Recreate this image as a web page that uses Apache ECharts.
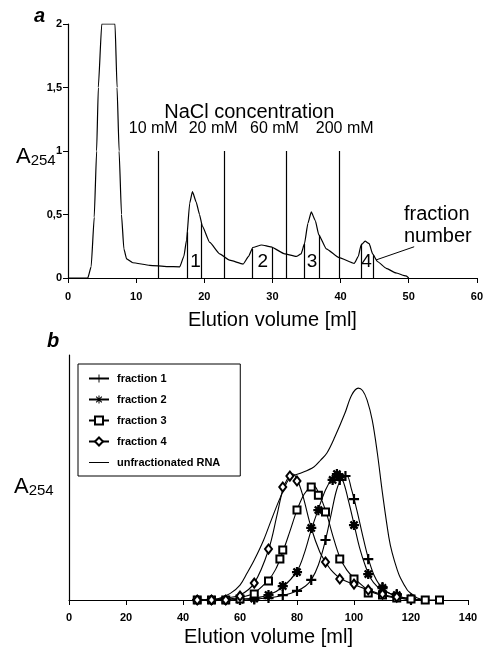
<!DOCTYPE html>
<html><head><meta charset="utf-8">
<script src="https://cdn.jsdelivr.net/npm/echarts@6/dist/echarts.min.js"></script>
<style>html,body{margin:0;padding:0;background:#fff}#c{width:486px;height:650px}</style>
</head><body><div id="c"></div>
<script>
// ---------- Panel a : elution profile ----------
const aVol = [0,2.9,3.4,3.85,4.2,4.45,4.95,6.9,7.2,7.5,7.85,8.2,8.6,9.5,12,14.5,16.4,17,17.4,17.86,18.26,18.8,19.3,19.7,20.8,22.25,23.7,25.7,26.5,27.1,28.4,29.8,31.8,33.5,34.2,34.7,35.2,35.7,36.3,36.8,37.9,39.8,42,42.6,43,43.6,44.2,44.7,45.4,46.7,48.1,49.6,50];
const aAbs = [0,0,0.09,0.48,1.0,1.5,2.0,2.0,1.5,1.0,0.5,0.23,0.15,0.12,0.10,0.09,0.088,0.17,0.3,0.59,0.68,0.6,0.5,0.41,0.28,0.19,0.14,0.11,0.17,0.24,0.26,0.245,0.19,0.17,0.19,0.27,0.43,0.52,0.45,0.34,0.23,0.16,0.115,0.17,0.26,0.29,0.27,0.19,0.13,0.076,0.04,0.016,0];
const naclLabels = ['10 mM','20 mM','60 mM','200 mM'];
const naclLineX = [13.2, 23, 32, 39.8];
const naclLineTop = 1;
const naclLabelX = [12.5, 21.3, 30.3, 40.6];
const naclLabelY = 1.18;
const naclTitle = 'NaCl concentration';
const naclTitleX = 26.6, naclTitleY = 1.3;
const fracLineX = [17.5, 19.6, 27, 29.9, 34.7, 36.8, 43.1, 44.8];
const fracLineTop = [0.36, 0.43, 0.23, 0.24, 0.27, 0.34, 0.27, 0.18];
const fracNums = ['1','2','3','4'];
const fracNumX = [18.7, 28.6, 35.8, 43.8];
const fracNumY = 0.13;
const fracNoteText = 'fraction\nnumber';
const fracNoteX = 49.3, fracNoteY = 0.41;
const leaderX = [45.2, 50.8];
const leaderY = [0.142, 0.246];
const aYTicks = ['0','0,5','1','1,5','2'];

// ---------- Panel b : size-exclusion profiles ----------
const unfX = [48,52,56.6,60,62.5,65,68.3,71,74.2,77.7,81.2,85.9,88.3,90.5,93.3,96.8,99.2,101.5,103,104.6,106.4,108.2,110,112.2,113.4,115.2,116.3,118.7,120,122.2,125];
const unfY = [0,0.4,2.7,6.1,11,16.3,24.5,32.7,42,50.2,51.7,54.3,57.1,60,66.6,76.2,83.7,86.5,85.5,81.6,73.4,59.9,43.5,25.8,19.2,12.2,9,4.1,2.7,0.8,0];

const f1CurveX = [45,50,55,60,65,70,75,80,83,85,87.5,90,92,94,96,97.5,99,101,103,105,107,109,111,115,120,125];
const f1CurveY = [0,0,0,0,0.4,0.8,1.8,3.7,5.7,8.2,14.3,24.5,35.1,45.3,50.2,50.6,45.7,36.7,26.5,17.1,10.2,6.1,3.7,1.6,0.4,0];
const f1PtsX = [45,50,55,60,65,70,75,80,85,90,95,97,100,105,110,115,120];
const f1PtsY = [0,0,0,0,0.2,0.8,2,3.7,8.2,24.5,49,50.6,41.2,16.7,5.3,2.4,0];

const f2CurveX = [45,50,55,60,65,70,75,80,82.5,85,87.5,90,92.5,94,96,98,100,102,104,106,108,110,115,120,125];
const f2CurveY = [0,0,0,0.4,0.8,2,5.3,11.8,18.8,28.6,37.1,44.9,50,51.4,49,40.8,31,21.2,13.9,8.6,5.7,4.1,1.6,0.4,0];
const f2PtsX = [45,50,55,60,65,70,75,80,85,87.5,92.5,94,95,100,105,110,115,120];
const f2PtsY = [0,0,0,0.2,0.6,2,5.7,11.4,29.4,36.7,49,51.4,50.2,30.6,10.6,4.9,2,0.6];

const f3CurveX = [45,50,55,60,65,70,72.5,75,77.5,80,82.5,85,86,87.5,90,92.5,95,97.5,100,105,110,115,120,125,130];
const f3CurveY = [0,0,0.4,1,2.9,8.2,12.5,19.6,28,36.7,43.2,46.3,46.5,43.9,36.7,26.5,17.5,12.2,9,4.1,1.8,0.8,0.2,0,0];
const f3PtsX = [45,50,55,60,65,70,74,75,80,85,87.5,90,95,100,105,110,115,120,125,130];
const f3PtsY = [0,0,0,0.4,2.4,7.8,16.7,20.4,36.7,46.1,42.8,35.9,16.7,8.6,2.9,2,0.8,0.4,0,0];

const f4CurveX = [45,50,55,60,65,70,73,75,77,78.5,80,82,85,88,90,92,95,100,105,110,115,120];
const f4CurveY = [0,0.2,0.8,2,6.9,20.4,34.7,44.9,50.2,51.4,49.4,42.8,29.4,19.6,15.5,12.2,9,6.3,4.1,2.2,1,0];
const f4PtsX = [45,50,55,60,65,70,75,77.5,80,90,95,100,105,110,115];
const f4PtsY = [0,0,0,1.6,6.9,20.8,46.1,50.6,48.6,15.5,8.6,6.5,4.1,2.4,1.2];

const seriesNames = ['fraction 1','fraction 2','fraction 3','fraction 4','unfractionated RNA'];

// ---------- chart ----------
const FONT = '"Liberation Sans", Arial, Helvetica, sans-serif';
const zip = (xs, ys) => xs.map((x, i) => [x, ys[i]]);
const plusPath = 'path://M4.4,0H5.6V10H4.4Z M0,4.4H10V5.6H0Z';
function starPath() {
  let d = '';
  const t = 0.65;
  [0, 45, 90, 135].forEach(deg => {
    const a = deg * Math.PI / 180, c = Math.cos(a), s = Math.sin(a);
    const pts = [[-5,-t],[5,-t],[5,t],[-5,t]].map(([x, y]) => [5 + x*c - y*s, 5 + x*s + y*c]);
    d += 'M' + pts.map(p => p[0].toFixed(2) + ',' + p[1].toFixed(2)).join('L') + 'Z';
  });
  return 'path://' + d;
}
const symbols = [plusPath, starPath(), 'emptyRect', 'emptyDiamond'];
const symSizes = [9, 9, 7, [7, 9]];
const curves = [[f1CurveX,f1CurveY],[f2CurveX,f2CurveY],[f3CurveX,f3CurveY],[f4CurveX,f4CurveY]];
const pts = [[f1PtsX,f1PtsY],[f2PtsX,f2PtsY],[f3PtsX,f3PtsY],[f4PtsX,f4PtsY]];

function textSeries(xs, ys, texts, fontSize, labelExtra) {
  return {
    type: 'scatter', xAxisIndex: 0, yAxisIndex: 0, silent: true,
    symbol: 'circle', symbolSize: 0.1, itemStyle: { color: '#000', opacity: 1 },
    data: xs.map((x, i) => ({ value: [x, ys[i]], label: { formatter: texts[i] } })),
    label: Object.assign({ show: true, position: 'inside', align: 'center', verticalAlign: 'middle',
      color: '#000', opacity: 1, textBorderWidth: 0, fontSize: fontSize, fontFamily: FONT }, labelExtra || {}),
    z: 5
  };
}

const bSeries = [];
for (let k = 0; k < 4; k++) {
  bSeries.push({
    name: seriesNames[k], type: 'line', xAxisIndex: 1, yAxisIndex: 1,
    data: zip(curves[k][0], curves[k][1]), smooth: 0.35, showSymbol: false,
    symbol: symbols[k], symbolSize: symSizes[k],
    lineStyle: { color: '#000', width: 1.1 }, itemStyle: { color: '#000' }, z: 2
  });
}
for (let k = 0; k < 4; k++) {
  bSeries.push({
    name: seriesNames[k], type: 'scatter', xAxisIndex: 1, yAxisIndex: 1,
    data: zip(pts[k][0], pts[k][1]), symbol: symbols[k], symbolSize: symSizes[k],
    itemStyle: { color: '#000', borderColor: '#000', borderWidth: 1.1, opacity: 1 }, z: 3
  });
}
bSeries.push({
  name: seriesNames[4], type: 'line', xAxisIndex: 1, yAxisIndex: 1,
  data: zip(unfX, unfY), smooth: 0.35, showSymbol: false, symbol: 'none',
  lineStyle: { color: '#000', width: 1.1 }, itemStyle: { color: '#000' }, z: 2
});

const axisLabelStyle = { color: '#000', fontSize: 11, fontWeight: 'bold', fontFamily: FONT };
const axisLineStyle = { show: true, lineStyle: { color: '#000', width: 1.2 } };

const option = {
  animation: false,
  backgroundColor: '#fff',
  grid: [
    { left: 68, right: 8, top: 24, bottom: 372 },
    { left: 69, right: 18, top: 355, bottom: 50 }
  ],
  xAxis: [
    { gridIndex: 0, type: 'value', min: 0, max: 60, interval: 10,
      axisLine: axisLineStyle, axisTick: { show: true, length: 5, lineStyle: { color: '#000' } },
      axisLabel: Object.assign({ margin: 13 }, axisLabelStyle), splitLine: { show: false },
      name: 'Elution volume [ml]', nameLocation: 'middle', nameGap: 32,
      nameTextStyle: { color: '#000', fontSize: 20, fontFamily: FONT } },
    { gridIndex: 1, type: 'value', min: 0, max: 140, interval: 20,
      axisLine: axisLineStyle, axisTick: { show: true, length: 5, lineStyle: { color: '#000' } },
      axisLabel: Object.assign({ margin: 12 }, axisLabelStyle), splitLine: { show: false },
      name: 'Elution volume [ml]', nameLocation: 'middle', nameGap: 27,
      nameTextStyle: { color: '#000', fontSize: 20, fontFamily: FONT } }
  ],
  yAxis: [
    { gridIndex: 0, type: 'value', min: 0, max: 2, interval: 0.5,
      axisLine: axisLineStyle, axisTick: { show: true, length: 5, lineStyle: { color: '#000' } },
      axisLabel: Object.assign({ margin: 6, formatter: (v) => aYTicks[Math.round(v / 0.5)] }, axisLabelStyle),
      splitLine: { show: false } },
    { gridIndex: 1, type: 'value', min: 0, max: 100,
      axisLine: axisLineStyle, axisTick: { show: false }, axisLabel: { show: false },
      splitLine: { show: false } }
  ],
  legend: {
    orient: 'vertical', left: 78, top: 364,
    itemWidth: 20, itemHeight: 10, itemGap: 10,
    padding: [9, 20, 8, 10],
    borderColor: '#000', borderWidth: 1,
    textStyle: { color: '#000', fontSize: 11, fontWeight: 'bold', fontFamily: FONT, padding: [0,0,0,3] },
    data: [
      { name: seriesNames[0] }, { name: seriesNames[1] }, { name: seriesNames[2] }, { name: seriesNames[3] },
      { name: seriesNames[4], icon: 'path://M0,0H20V1H0Z' }
    ]
  },
  graphic: [
    { type: 'text', left: 34, top: 6, style: { text: 'a', fill: '#000', font: 'italic bold 20px ' + FONT } },
    { type: 'text', left: 47, top: 331, style: { text: 'b', fill: '#000', font: 'italic bold 20px ' + FONT } },
    { type: 'text', left: 16, top: 146, style: { text: '{a|A}{s|254}', fill: '#000',
        rich: { a: { fontSize: 22, fontFamily: FONT, fill: '#000', verticalAlign: 'bottom' },
                s: { fontSize: 15, fontFamily: FONT, fill: '#000', verticalAlign: 'bottom' } } } },
    { type: 'text', left: 14, top: 476, style: { text: '{a|A}{s|254}', fill: '#000',
        rich: { a: { fontSize: 22, fontFamily: FONT, fill: '#000', verticalAlign: 'bottom' },
                s: { fontSize: 15, fontFamily: FONT, fill: '#000', verticalAlign: 'bottom' } } } }
  ],
  series: [
    {
      type: 'line', xAxisIndex: 0, yAxisIndex: 0, data: zip(aVol, aAbs),
      smooth: 0.15, smoothMonotone: 'x', showSymbol: false, symbol: 'none',
      lineStyle: { color: '#000', width: 1.2 },
      markLine: {
        silent: true, symbol: ['none', 'none'], label: { show: false },
        lineStyle: { color: '#000', width: 1.2, type: 'solid' }, emphasis: { disabled: true },
        data: naclLineX.map(x => [{ coord: [x, 0] }, { coord: [x, naclLineTop] }])
          .concat(fracLineX.map((x, i) => [{ coord: [x, 0] }, { coord: [x, fracLineTop[i]] }]))
      }
    },
    {
      type: 'line', xAxisIndex: 0, yAxisIndex: 0, data: zip(leaderX, leaderY),
      showSymbol: false, symbol: 'none', lineStyle: { color: '#000', width: 1 }, silent: true
    },
    textSeries([naclTitleX], [naclTitleY], [naclTitle], 20),
    textSeries(naclLabelX, naclLabelX.map(() => naclLabelY), naclLabels, 16),
    textSeries(fracNumX, fracNumX.map(() => fracNumY), fracNums, 19),
    textSeries([fracNoteX], [fracNoteY], [fracNoteText], 20, { position: [0, 0], align: 'left', lineHeight: 22 })
  ].concat(bSeries)
};

const chart = echarts.init(document.getElementById('c'));
chart.setOption(option);
</script>
</body></html>
